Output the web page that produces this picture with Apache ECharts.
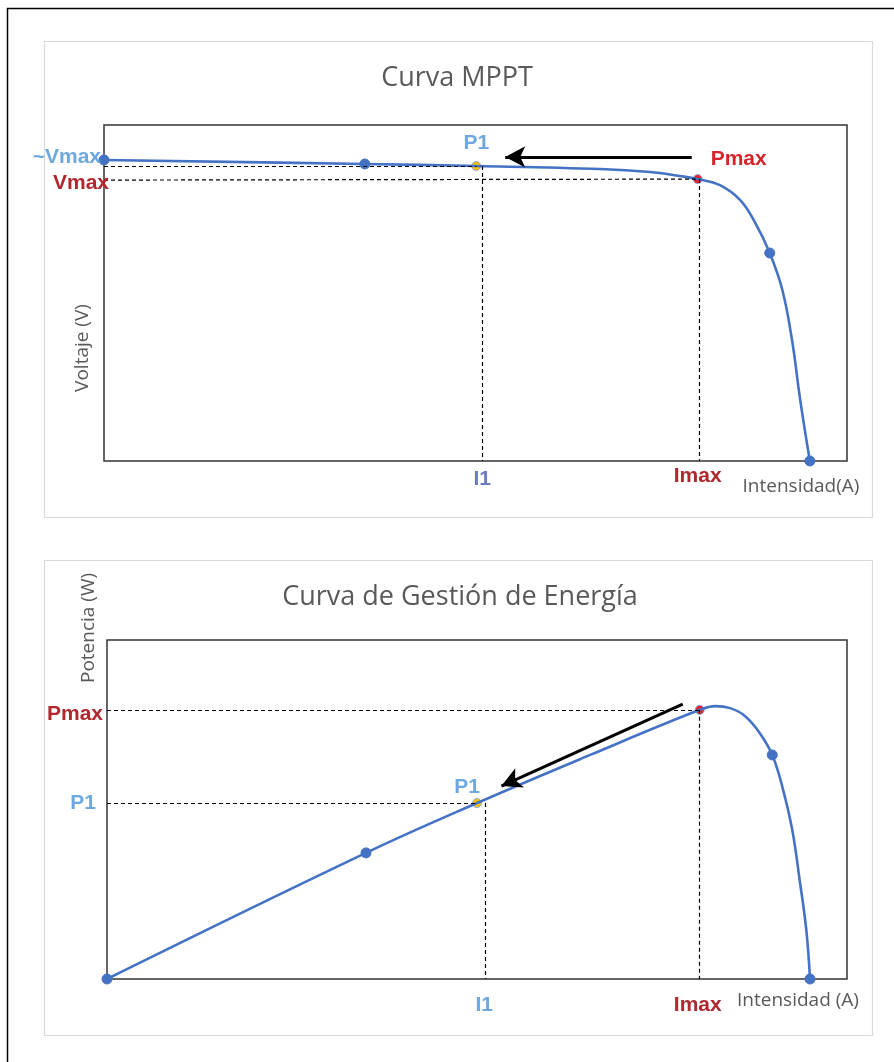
<!DOCTYPE html>
<html><head><meta charset="utf-8">
<script src="https://cdn.jsdelivr.net/npm/echarts@6/dist/echarts.min.js"></script>
<style>html,body{margin:0;padding:0;background:#fff;}#c{width:894px;height:1062px;}</style>
</head><body><div id="c"></div>
<script>
// ---- data (x = intensity %, y = voltage / power %) ----
const mpptCurveX = [0, 35.1, 50.1, 66.8, 73.5, 77.5, 79.9, 82.9, 85.6, 87.6, 89.6, 91.3, 92.6, 93.7, 95.0];
const mpptCurveY = [89.6, 88.4, 87.8, 86.9, 86.0, 84.8, 83.9, 82.1, 77.7, 71.1, 61.9, 50.9, 36.0, 18.2, 0];
const mpptDotsX = [0, 35.1, 89.6, 95.0];
const mpptDotsY = [89.6, 88.4, 61.9, 0];
const mpptP1 = [50.1, 87.8];
const mpptPmax = [79.9, 83.9];
const mpptI1 = 50.9;

const powCurveX = [0, 35.0, 50.0, 65.3, 80.1, 82.2, 84.2, 86.2, 88.2, 89.9, 91.2, 92.6, 93.6, 94.5, 95.0];
const powCurveY = [0, 37.2, 51.9, 66.1, 79.4, 80.5, 79.9, 77.6, 72.6, 66.1, 57.2, 44.0, 29.2, 14.5, 0];
const powDotsX = [0, 35.0, 89.9, 95.0];
const powDotsY = [0, 37.2, 66.1, 0];
const powP1 = [50.0, 51.9];
const powPmax = [80.1, 79.4];
const powI1 = 51.1;

const titles = ['Curva MPPT', 'Curva de Gestión de Energía'];
const xNames = ['Intensidad(A)', 'Intensidad (A)'];
const yNames = ['Voltaje (V)', 'Potencia (W)'];

const BLUE = '#4472C4', LBLUE = '#6FA8DC', DRED = '#B0272D', RED = '#D9232A';
const zip = (a, b) => a.map((v, i) => [v, b[i]]);

const chart = echarts.init(document.getElementById('c'), null, {renderer: 'canvas'});
const dash = {color: '#000', width: 1.2, type: [4, 3]};
function dl(a, b) { return [{coord: a}, {coord: b}]; }
const dot = (c, s) => ({symbolSize: s, itemStyle: {color: c, opacity: 1, borderColor: c === BLUE ? BLUE : '#8FA9D6', borderWidth: 1}});

const option = {
  animation: false,
  grid: [
    {left: 104, top: 125, width: 743, height: 336, show: true, borderColor: '#333', borderWidth: 1.5, backgroundColor: '#fff'},
    {left: 107, top: 640, width: 740, height: 339, show: true, borderColor: '#333', borderWidth: 1.5, backgroundColor: '#fff'}
  ],
  xAxis: [0, 1].map(i => ({type: 'value', gridIndex: i, min: 0, max: 100, show: false})),
  yAxis: [0, 1].map(i => ({type: 'value', gridIndex: i, min: 0, max: 100, show: false})),
  series: [
    {type: 'line', xAxisIndex: 0, yAxisIndex: 0, data: [], silent: true,
      markLine: {silent: true, symbol: 'none', label: {show: false}, lineStyle: dash,
        data: [dl([0, mpptP1[1]], mpptP1), dl([0, mpptPmax[1] - 0.3], mpptPmax),
               dl([mpptI1, mpptP1[1]], [mpptI1, 0]), dl([mpptPmax[0] + 0.2, mpptPmax[1]], [mpptPmax[0] + 0.2, 0])]}},
    {type: 'line', xAxisIndex: 1, yAxisIndex: 1, data: [], silent: true,
      markLine: {silent: true, symbol: 'none', label: {show: false}, lineStyle: dash,
        data: [dl([0, powPmax[1]], powPmax), dl([0, powP1[1]], powP1),
               dl([powI1, powP1[1]], [powI1, 0]), dl([powPmax[0], powPmax[1]], [powPmax[0], 0])]}},
    {type: 'line', xAxisIndex: 0, yAxisIndex: 0, data: zip(mpptCurveX, mpptCurveY), smooth: 0.4,
      showSymbol: false, lineStyle: {color: BLUE, width: 2.6}},
    {type: 'line', xAxisIndex: 1, yAxisIndex: 1, data: zip(powCurveX, powCurveY), smooth: 0.4,
      showSymbol: false, lineStyle: {color: BLUE, width: 2.6}},
    {type: 'line', xAxisIndex: 0, yAxisIndex: 0, data: [], silent: true,
      markLine: {silent: true, symbol: ['none', 'arrow'], symbolSize: [16, 20], label: {show: false},
        lineStyle: {color: '#000', width: 3, type: 'solid'},
        data: [dl([79.1, 90.5], [54.0, 90.5])]}},
    {type: 'line', xAxisIndex: 1, yAxisIndex: 1, data: [], silent: true,
      markLine: {silent: true, symbol: ['none', 'arrow'], symbolSize: [16, 20], label: {show: false},
        lineStyle: {color: '#000', width: 3, type: 'solid'},
        data: [dl([77.8, 81.1], [53.3, 56.9])]}},
    Object.assign({type: 'scatter', xAxisIndex: 0, yAxisIndex: 0, data: zip(mpptDotsX, mpptDotsY)}, dot(BLUE, 10)),
    Object.assign({type: 'scatter', xAxisIndex: 1, yAxisIndex: 1, data: zip(powDotsX, powDotsY)}, dot(BLUE, 10)),
    Object.assign({type: 'scatter', xAxisIndex: 0, yAxisIndex: 0, data: [mpptP1]}, dot('#FFC000', 9)),
    Object.assign({type: 'scatter', xAxisIndex: 1, yAxisIndex: 1, data: [powP1]}, dot('#FFC000', 9)),
    Object.assign({type: 'scatter', xAxisIndex: 0, yAxisIndex: 0, data: [mpptPmax]}, dot('#EE1C25', 9)),
    Object.assign({type: 'scatter', xAxisIndex: 1, yAxisIndex: 1, data: [powPmax]}, dot('#EE1C25', 9))
  ]
};
chart.setOption(option);

const px = (g, p) => chart.convertToPixel({gridIndex: g}, p);
const BOLD = 'bold 21px "Liberation Sans", Arial, sans-serif';
function txt(x, y, s, color, font, align, rot) {
  return {type: 'text', x: x, y: y, rotation: rot || 0, silent: true, z: 100,
    style: {text: s, fill: color, font: font, align: align || 'center', verticalAlign: 'middle'}};
}
const g = [];
g.push({type: 'rect', shape: {x: 7.5, y: 8.5, width: 900, height: 1100}, style: {fill: 'none', stroke: '#000', lineWidth: 1.5}, z: -10, silent: true});
g.push({type: 'rect', shape: {x: 44.5, y: 41.5, width: 828, height: 476}, style: {fill: '#fff', stroke: '#D9D9D9', lineWidth: 1.2}, z: -5, silent: true});
g.push({type: 'rect', shape: {x: 44.5, y: 560.5, width: 828, height: 475}, style: {fill: '#fff', stroke: '#D9D9D9', lineWidth: 1.2}, z: -5, silent: true});
const TF = '27px "Open Sans", "Noto Sans", sans-serif';
g.push(txt(457, 78, titles[0], '#595959', TF));
g.push(txt(460, 597, titles[1], '#595959', TF));
const AF = '19px "Open Sans", "Noto Sans", sans-serif';
g.push(txt(801, 487, xNames[0], '#595959', AF));
g.push(txt(798, 1001, xNames[1], '#595959', AF));
g.push(txt(83, 348, yNames[0], '#595959', AF, 'center', Math.PI / 2));
g.push(txt(89, 628, yNames[1], '#595959', AF, 'center', Math.PI / 2));
let p;
p = px(0, [0, mpptCurveY[0]]); g.push(txt(p[0] - 3, p[1] - 3, '~Vmax', LBLUE, BOLD, 'right'));
p = px(0, [0, mpptPmax[1]]); g.push(txt(p[0] + 5, p[1] + 4, 'Vmax', DRED, BOLD, 'right'));
p = px(0, mpptP1); g.push(txt(p[0], p[1] - 23, 'P1', LBLUE, BOLD));
p = px(0, mpptPmax); g.push(txt(p[0] + 41, p[1] - 20, 'Pmax', RED, BOLD));
p = px(0, [mpptI1, 0]); g.push(txt(p[0], p[1] + 18, 'I1', '#6B7CC4', BOLD));
p = px(0, mpptPmax); g.push(txt(p[0], 476, 'Imax', DRED, BOLD));
p = px(1, [0, powPmax[1]]); g.push(txt(p[0] - 4, p[1] + 4, 'Pmax', DRED, BOLD, 'right'));
p = px(1, [0, powP1[1]]); g.push(txt(p[0] - 11, p[1], 'P1', LBLUE, BOLD, 'right'));
p = px(1, powP1); g.push(txt(p[0] - 10, p[1] - 16, 'P1', LBLUE, BOLD));
p = px(1, [powI1, 0]); g.push(txt(p[0] - 1, p[1] + 26, 'I1', LBLUE, BOLD));
p = px(1, [powPmax[0], 0]); g.push(txt(p[0] - 2, p[1] + 26, 'Imax', DRED, BOLD));
chart.setOption({graphic: {elements: g}});
</script>
</body></html>
